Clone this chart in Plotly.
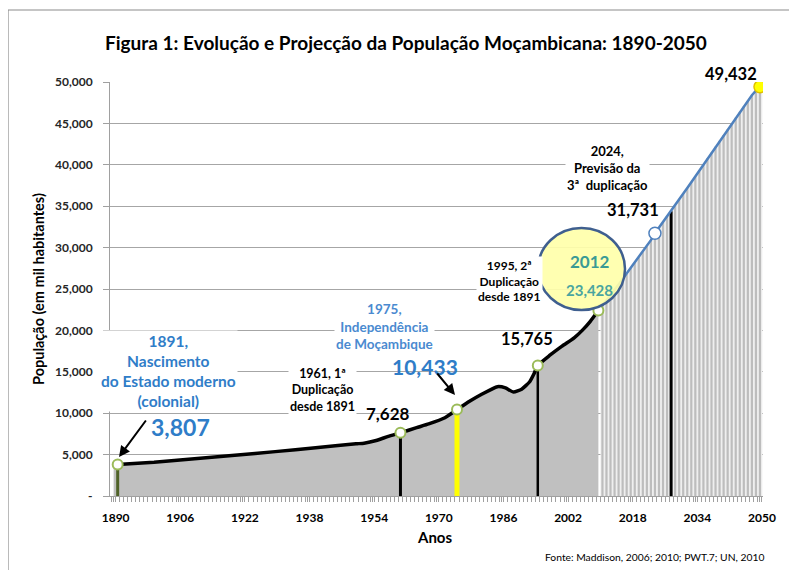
import plotly.graph_objects as go

# ---------------- data ----------------
hist_years = [1890, 1891, 1900, 1910, 1920, 1930, 1940, 1950, 1952, 1955, 1958, 1961,
              1965, 1968, 1972, 1975, 1978, 1981, 1985, 1987, 1989, 1991, 1993, 1994,
              1995, 1998, 2001, 2004, 2006, 2008, 2010]
hist_pop = [3790, 3807, 4080, 4500, 4920, 5360, 5830, 6300, 6380, 6700, 7200, 7628,
            8250, 8700, 9450, 10433, 11400, 12250, 13200, 13050, 12550, 12900, 13800, 14700,
            15765, 17000, 18100, 19100, 20000, 21100, 22400]

proj_years = [2010, 2011, 2012, 2013, 2014, 2015, 2016, 2017, 2018, 2019, 2020,
              2021, 2022, 2023, 2024, 2025, 2026, 2027, 2028, 2029, 2030,
              2031, 2032, 2033, 2034, 2035, 2036, 2037, 2038, 2039, 2040,
              2041, 2042, 2043, 2044, 2045, 2046, 2047, 2048, 2049, 2050]
proj_pop = [22400, 23000, 23600, 24250, 24900, 25550, 26200, 26850, 27500, 28150, 28800,
            29450, 30100, 30900, 31731, 32400, 33100, 33800, 34400, 35100, 35800,
            36500, 37200, 37900, 38600, 39350, 40100, 40800, 41500, 42200, 42900,
            43600, 44300, 45000, 45700, 46400, 47100, 47750, 48400, 48950, 49432]

event_years = [1891, 1961, 1975, 1995, 2028]
event_pop = [3807, 7628, 10433, 15765, 34400]

hist_marker_years = [1891, 1961, 1975, 1995, 2010]
hist_marker_pop = [3807, 7628, 10433, 15765, 22400]
proj_marker_years = [2024]
proj_marker_pop = [31731]
end_marker_years = [2050]
end_marker_pop = [49432]

x_tick_years = [1890, 1906, 1922, 1938, 1954, 1970, 1986, 2002, 2018, 2034, 2050]
y_tick_vals = [0, 5000, 10000, 15000, 20000, 25000, 30000, 35000, 40000, 45000, 50000]
y_tick_text = ["-", "5,000", "10,000", "15,000", "20,000", "25,000", "30,000",
               "35,000", "40,000", "45,000", "50,000"]

# ---------------- layout geometry (reference-window pixels) ----------------
WIN_W, WIN_H = 797, 570
OFF = 8  # default page body margin
L, R, T, B = 110, 763, 82, 496
FONT = "Lato"


def px(x, y):
    return (x - L) / (R - L), (B - y) / (B - T)


fig = go.Figure()

# historical grey area
fig.add_trace(go.Scatter(x=hist_years, y=hist_pop, mode="lines", fill="tozeroy",
                         fillcolor="#c0c0c0", line=dict(width=0, color="#c0c0c0"),
                         hoverinfo="skip", showlegend=False))
# projection light area
fig.add_trace(go.Scatter(x=[proj_years[0] + 0.5] + proj_years[1:] + [proj_years[-1] + 0.6],
                         y=[proj_pop[0]] + proj_pop[1:] + [proj_pop[-1]],
                         mode="lines", fill="tozeroy",
                         fillcolor="#efefef", line=dict(width=0, color="#efefef"),
                         hoverinfo="skip", showlegend=False))
# projection stripes
sx, sy = [], []
for yr, v in zip(proj_years[1:], proj_pop[1:]):
    sx += [yr, yr, None]
    sy += [0, v, None]
fig.add_trace(go.Scatter(x=sx, y=sy, mode="lines", line=dict(width=2.2, color="#bdbdbd"),
                         hoverinfo="skip", showlegend=False))

# event vertical lines
event_colors = ["#4f6228", "#000000", "#ffff00", "#000000", "#000000"]
event_widths = [3, 3, 5, 2.5, 3]
for yr, v, c, w in zip(event_years, event_pop, event_colors, event_widths):
    fig.add_trace(go.Scatter(x=[yr, yr], y=[0, v], mode="lines", line=dict(width=w, color=c),
                             hoverinfo="skip", showlegend=False))

# historical line
fig.add_trace(go.Scatter(x=hist_years[1:], y=hist_pop[1:], mode="lines",
                         line=dict(width=3.5, color="#000000", shape="spline", smoothing=0.5),
                         showlegend=False))
# projection line
fig.add_trace(go.Scatter(x=proj_years, y=proj_pop, mode="lines",
                         line=dict(width=2.5, color="#4f81bd"), showlegend=False))

# markers
fig.add_trace(go.Scatter(x=hist_marker_years, y=hist_marker_pop, mode="markers",
                         marker=dict(size=10, color="white", line=dict(width=2, color="#9bbb59")),
                         showlegend=False))
fig.add_trace(go.Scatter(x=proj_marker_years, y=proj_marker_pop, mode="markers",
                         marker=dict(size=12, color="white", line=dict(width=1.5, color="#4f81bd")),
                         showlegend=False))
fig.add_trace(go.Scatter(x=end_marker_years, y=end_marker_pop, mode="markers",
                         marker=dict(size=12, color="#ffff00", line=dict(width=1.5, color="#e0c000")),
                         showlegend=False))

annotations = []


def add_text(x, y, text, size=11, color="#262626", bold=True, bg=None, xanchor="center",
             yanchor="middle", align="center", angle=0):
    xp, yp = px(x, y)
    t = f"<b>{text}</b>" if bold else text
    a = dict(x=xp, y=yp, xref="paper", yref="paper", text=t, showarrow=False,
             font=dict(family=FONT, size=size, color=color), xanchor=xanchor,
             yanchor=yanchor, align=align, textangle=angle)
    if bg:
        a["bgcolor"] = bg
    annotations.append(a)


# title
add_text(406, 42, "Figura 1: Evolução e Projecção da População Moçambicana: 1890-2050", size=19,
         color="#000000")
# axis titles
add_text(38, 289, "População (em mil habitantes)", size=14.5, color="#000000", angle=-90)
add_text(434, 537, "Anos", size=15, color="#000000")
add_text(766, 557, "Fonte: Maddison, 2006; 2010; PWT.7; UN, 2010", size=10.3, color="#000000",
         bold=False, xanchor="right")

BLUE = "#2f7dc8"
add_text(168, 371, "1891,<br>Nascimento<br>do Estado moderno<br>(colonial)", size=15.5,
         color=BLUE, bg="white")
add_text(180, 427, "3,807", size=23, color=BLUE)
add_text(322, 390, "1961, 1ª<br>Duplicação<br>desde 1891", size=12.5, color="#000000", bg="white")
add_text(388, 413, "7,628", size=17, color="#000000")
add_text(384, 326, "1975,<br>Independência<br>de Moçambique", size=13.5, color="#4a8ad0", bg="white")
add_text(425, 366, "10,433", size=21, color=BLUE)
add_text(509, 281, "1995, 2ª<br>Duplicação<br>desde 1891", size=12, color="#000000", bg="white")
add_text(527, 339, "15,765", size=16.5, color="#000000")
add_text(607, 168, "2024,<br>Previsão da<br>3ª  duplicação", size=13, color="#000000", bg="white")
add_text(633, 210, "31,731", size=16.5, color="#000000")
add_text(731, 74, "49,432", size=16.5, color="#000000")
add_text(590, 261, "2012", size=17, color="#3a9a95")
add_text(589, 290, "23,428", size=15, color="#4aa5a0")

# arrows
for head, tail in [((119, 457), (147, 419)), ((455, 395), (436, 372))]:
    hx, hy = px(*head)
    annotations.append(dict(x=hx, y=hy, xref="paper", yref="paper", text="", showarrow=True,
                            ax=tail[0] - head[0], ay=tail[1] - head[1], arrowhead=2,
                            arrowsize=1.1, arrowwidth=2, arrowcolor="#000000"))

shapes = []
# circle
cx0, cy0 = px(538, 310)
cx1, cy1 = px(625, 228)
shapes.append(dict(type="circle", xref="paper", yref="paper", x0=cx0, y0=cy0, x1=cx1, y1=cy1,
                   fillcolor="rgba(255,255,170,0.92)", line=dict(color="#3f5f8f", width=2.5),
                   layer="above"))
# outer frame
fx0, fy0 = px(8, 578)
fx1, fy1 = px(790, 10)
shapes.append(dict(type="rect", xref="paper", yref="paper", x0=fx0, y0=fy0, x1=fx1, y1=fy1,
                   line=dict(color="#8c8c8c", width=1.2), fillcolor="rgba(0,0,0,0)",
                   layer="below"))

fig.update_layout(
    width=WIN_W - OFF, height=WIN_H - OFF,
    margin=dict(l=L - OFF, r=WIN_W - R, t=T - OFF, b=WIN_H - B, pad=0),
    paper_bgcolor="white", plot_bgcolor="white",
    font=dict(family=FONT, color="#262626"),
    annotations=annotations, shapes=shapes,
    xaxis=dict(range=[1889.1, 2050.75], tickmode="array", tickvals=x_tick_years,
               ticktext=[str(y) for y in x_tick_years],
               tickfont=dict(family=FONT, size=12, color="#000000", weight="bold"),
               showgrid=False, zeroline=False, showline=True, linecolor="#a0a0a0", linewidth=1,
               ticks="outside", ticklen=5, tickcolor="#a0a0a0", ticklabelstandoff=6,
               ticklabelshift=2,
               minor=dict(dtick=1, tick0=1889.5, ticks="outside", ticklen=5,
                          tickcolor="#a0a0a0", showgrid=False)),
    yaxis=dict(range=[0, 50000], tickmode="array", tickvals=y_tick_vals, ticktext=y_tick_text,
               tickfont=dict(family=FONT, size=12, color="#262626", weight="bold"),
               showgrid=True, gridcolor="#a6a6a6", gridwidth=1, zeroline=False,
               showline=True, linecolor="#a0a0a0", ticks="outside", ticklen=6,
               tickcolor="#a0a0a0", ticklabelstandoff=8),
)

fig.write_html("out.html")
